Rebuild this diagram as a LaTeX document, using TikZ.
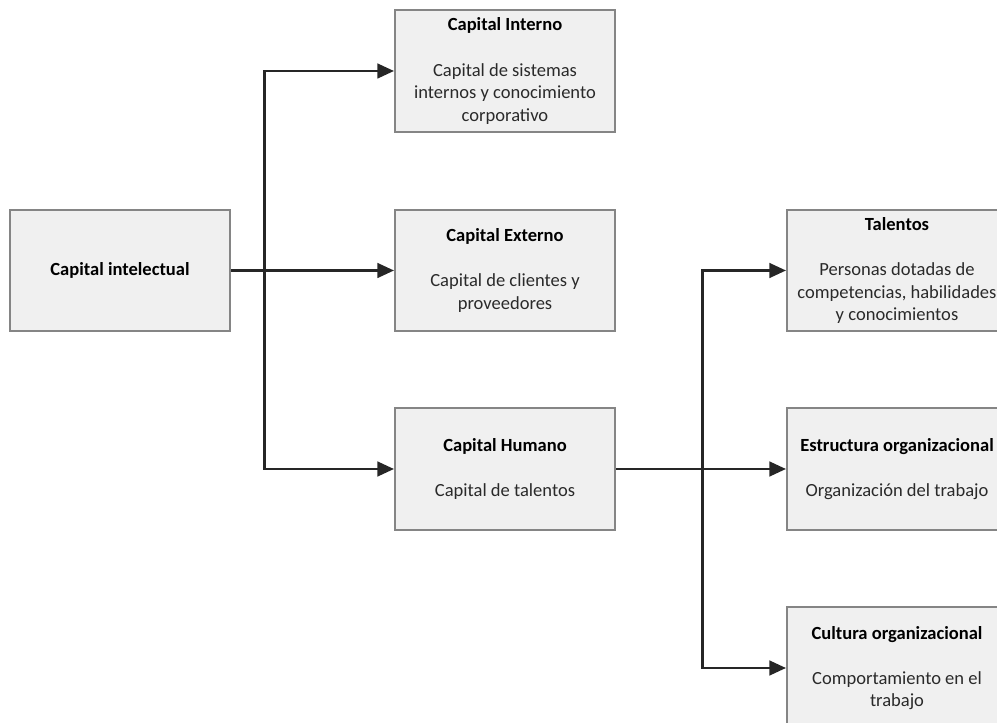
\documentclass[tikz,border=0pt]{standalone}
\usepackage{fontspec}
\setmainfont{Carlito}
\usetikzlibrary{arrows.meta}

\definecolor{boxfill}{HTML}{F0F0F0}
\definecolor{boxline}{HTML}{858585}
\definecolor{wire}{HTML}{262626}
\definecolor{bodytext}{HTML}{2A2A2A}

\tikzset{
  capbox/.style={draw=boxline, line width=1.5pt, fill=boxfill, rectangle,
    minimum width=165pt, minimum height=91pt, inner sep=0pt, align=center,
    font=\fontsize{13.9}{16.9}\selectfont, text=bodytext},
  wirearrow/.style={draw=wire, line width=1.9pt,
    -{Triangle[length=12.5pt,width=11pt]}},
  wireline/.style={draw=wire, line width=1.9pt},
}
\newcommand{\boxhead}[1]{\textcolor{black}{\textbf{#1}}\\[16.9pt]}

\begin{document}
\begin{tikzpicture}[x=0.75pt, y=-0.75pt]
  \useasboundingbox (0,0) rectangle (997,723);
  \clip (0,0) rectangle (997,723);

  % root
  \node[capbox] (intel) at (120,270.5) {\textcolor{black}{\textbf{Capital intelectual}}};

  % first level
  \node[capbox] (interno) at (505,71)
    {\boxhead{Capital Interno}Capital de sistemas\\internos y conocimiento\\corporativo};
  \node[capbox] (externo) at (505,270.5)
    {\boxhead{Capital Externo}Capital de clientes y\\proveedores};
  \node[capbox] (humano) at (505,469)
    {\boxhead{Capital Humano}Capital de talentos};

  % second level
  \node[capbox] (talentos) at (897,270.5)
    {\boxhead{Talentos}Personas dotadas de\\competencias, habilidades\\y conocimientos};
  \node[capbox] (estructura) at (897,469)
    {\boxhead{Estructura organizacional}Organización del trabajo};
  \node[capbox] (cultura) at (897,668)
    {\boxhead{Cultura organizacional}Comportamiento en el\\trabajo};

  % junctions of the branching connectors
  \coordinate (j1) at (264.5,270.5);
  \coordinate (j2) at (702.5,469);

  \draw[wirearrow] (intel.east) -- (externo.west);
  \draw[wirearrow] (j1) |- (interno.west);
  \draw[wirearrow] (j1) |- (humano.west);

  \draw[wirearrow] (humano.east) -- (estructura.west);
  \draw[wirearrow] (j2) |- (talentos.west);
  \draw[wirearrow] (j2) |- (cultura.west);
\end{tikzpicture}
\end{document}
